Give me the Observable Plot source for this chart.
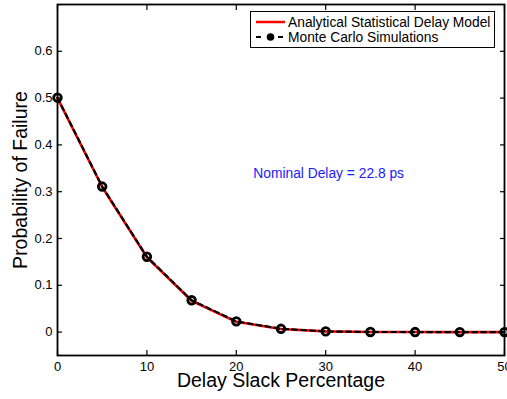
<!DOCTYPE html>
<html>
<head>
<meta charset="utf-8">
<script src="https://cdn.jsdelivr.net/npm/d3@7"></script>
<script src="https://cdn.jsdelivr.net/npm/@observablehq/plot@0.6"></script>
<style>
  html, body { margin: 0; padding: 0; background: #fff; }
  #wrap { position: relative; width: 507px; height: 399px; font-family: "Liberation Sans", Arial, sans-serif; }
  #legend { position: absolute; left: 250px; top: 11px; }
</style>
</head>
<body>
<div id="wrap"><div id="chart"></div><svg id="legend" width="246" height="38"></svg></div>
<script>
const slack = [0, 5, 10, 15, 20, 25, 30, 35, 40, 45, 50];
const analytical = [0.5, 0.31, 0.16, 0.067, 0.022, 0.0065, 0.0015, 0.0003, 0.0001, 0, 0];
const monteCarlo = [0.501, 0.311, 0.161, 0.068, 0.023, 0.007, 0.0015, 0.0003, 0.0001, 0, 0];
const xTicks = [0, 10, 20, 30, 40, 50];
const yTicks = [0, 0.1, 0.2, 0.3, 0.4, 0.5, 0.6];
const seriesNames = ["Analytical Statistical Delay Model", "Monte Carlo Simulations"];
const annotation = [{x: 21.9, y: 0.338, text: "Nominal Delay = 22.8 ps"}];

const an = slack.map((x, i) => ({x, y: analytical[i]}));
const mc = slack.map((x, i) => ({x, y: monteCarlo[i]}));

const font = "Liberation Sans, Arial, sans-serif";
const chart = Plot.plot({
  width: 507, height: 399,
  marginLeft: 57, marginRight: 3, marginTop: 4, marginBottom: 44,
  style: {fontFamily: font, fontSize: "13px", color: "#000", background: "#fff"},
  x: {domain: [0, 50]},
  y: {domain: [-0.05, 0.7]},
  marks: [
    Plot.line(an, {x: "x", y: "y", stroke: "#ff0000", strokeWidth: 2.6}),
    Plot.line(mc, {x: "x", y: "y", stroke: "#000", strokeWidth: 2.2, strokeDasharray: "5,4"}),
    Plot.dot(mc, {x: "x", y: "y", r: 3.8, stroke: "#000", strokeWidth: 2.8, fill: "none"}),
    Plot.text(annotation, {x: "x", y: "y", text: "text", textAnchor: "start", fill: "#2020ff", fontSize: 13.8}),
    Plot.axisX(xTicks, {anchor: "bottom", tickSize: 0, tickPadding: 6, label: null, fontSize: 13}),
    Plot.axisX(xTicks, {anchor: "bottom", tickSize: -5, text: null, label: null, strokeWidth: 1.2}),
    Plot.axisX(xTicks, {anchor: "top", tickSize: -5, text: null, label: null, strokeWidth: 1.2}),
    Plot.axisY(yTicks, {anchor: "left", tickSize: 0, tickPadding: 5, label: null, fontSize: 13, tickFormat: d => String(d)}),
    Plot.axisY(yTicks, {anchor: "left", tickSize: -5, text: null, label: null, strokeWidth: 1.2}),
    Plot.axisY(yTicks, {anchor: "right", tickSize: -5, text: null, label: null, strokeWidth: 1.2}),
    Plot.frame({stroke: "#000", strokeWidth: 1.8}),
    Plot.text(["Delay Slack Percentage"], {frameAnchor: "bottom", dy: 31, fontSize: 19.5, fill: "#000"}),
    Plot.text(["Probability of Failure"], {frameAnchor: "left", dx: -37, rotate: -90, textAnchor: "middle", fontSize: 19.5, fill: "#000"})
  ]
});
document.getElementById("chart").appendChild(chart);

const lg = d3.select("#legend");
lg.append("rect").attr("x", 0.5).attr("y", 0.5).attr("width", 244).attr("height", 36)
  .attr("fill", "#fff").attr("stroke", "#000").attr("stroke-width", 1);
lg.append("line").attr("x1", 6).attr("x2", 35).attr("y1", 11).attr("y2", 11)
  .attr("stroke", "#ff0000").attr("stroke-width", 2.5);
lg.append("line").attr("x1", 6).attr("x2", 35).attr("y1", 26).attr("y2", 26)
  .attr("stroke", "#000").attr("stroke-width", 2).attr("stroke-dasharray", "5,6");
lg.append("circle").attr("cx", 20.5).attr("cy", 26).attr("r", 3.8).attr("fill", "#000");
seriesNames.forEach((t, i) => {
  lg.append("text").attr("x", 38).attr("y", 11 + 15 * i).attr("dy", "0.36em")
    .attr("font-family", font).attr("font-size", 13.8).attr("fill", "#000").text(t);
});
</script>
</body>
</html>
